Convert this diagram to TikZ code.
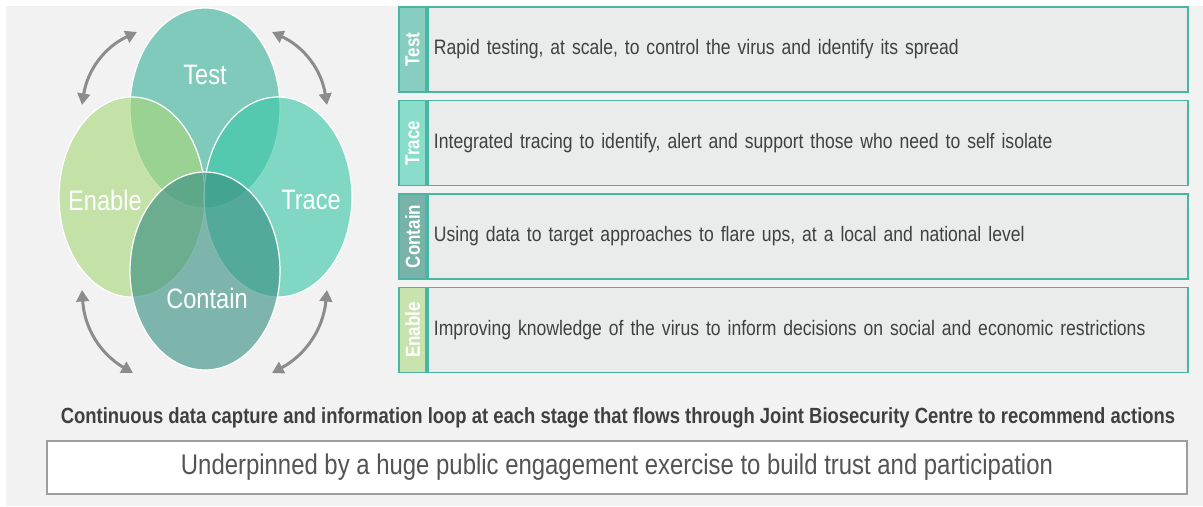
\documentclass[tikz,border=0pt]{standalone}
\usepackage{fontspec}
\setmainfont[FakeStretch=0.84]{Liberation Sans}
\usetikzlibrary{arrows.meta,positioning,shapes.geometric}
\definecolor{pagegray}{RGB}{242,242,242}
\definecolor{testteal}{RGB}{62,180,156}
\definecolor{traceteal}{RGB}{60,200,170}
\definecolor{containteal}{RGB}{58,144,130}
\definecolor{enablegreen}{RGB}{170,216,124}
\definecolor{tabtest}{RGB}{136,206,192}
\definecolor{tabtrace}{RGB}{138,220,203}
\definecolor{tabcontain}{RGB}{120,178,168}
\definecolor{tabenable}{RGB}{200,227,174}
\definecolor{rowline}{RGB}{72,182,162}
\definecolor{rowfill}{RGB}{233,236,235}
\definecolor{bodytext}{RGB}{64,64,64}
\definecolor{loopgray}{RGB}{140,140,140}
\tikzset{
  venn/.style={ellipse, draw=white, line width=0.7pt, fill opacity=0.63,
               minimum width=3.0cm, minimum height=4.0cm, inner sep=0pt},
  vennlab/.style={text=white, font=\fontsize{16}{18}\selectfont},
  loop/.style={loopgray, line width=1.7pt,
               {Triangle[length=2.3mm,width=2.5mm]}-{Triangle[length=2.3mm,width=2.5mm]}},
  rowbox/.style={draw=rowline, line width=1.1pt, fill=rowfill,
                 minimum height=1.70cm, text width=14.96cm, inner xsep=0.12cm,
                 align=left, text=bodytext, font=\fontsize{11.9}{13}\selectfont},
  tab/.style={draw=rowline, line width=1.1pt, minimum width=0.54cm,
              minimum height=1.70cm, inner sep=0pt, text=white,
              font=\fontsize{11.5}{12}\selectfont\bfseries},
  footbox/.style={draw=black!38, line width=0.6pt, fill=white,
                  minimum width=22.80cm, minimum height=1.06cm,
                  text=black!67, font=\fontsize{16.2}{18}\selectfont},
}
\begin{document}
\begin{tikzpicture}[x=1cm,y=1cm]
  \path[use as bounding box] (0,0) rectangle (24.06,10.12);
  \fill[pagegray] (0.12,0) rectangle (24.06,10.00);

  % Venn of the four stages, drawn back to front.
  \node[venn, fill=testteal] (test) at (4.10,7.96) {};
  \node[venn, fill=enablegreen, minimum width=2.92cm] (enable) at (2.64,6.18) {};
  \node[venn, fill=traceteal, minimum width=2.96cm] (trace) at (5.56,6.18) {};
  \node[venn, fill=containteal, minimum height=3.96cm] (contain) at (4.10,4.70) {};

  \node[vennlab] (testlab) at (4.10,8.62) {Test};
  \node[vennlab] (enablelab) at (2.10,6.12) {Enable};
  \node[vennlab] (tracelab) at (6.22,6.12) {Trace};
  \node[vennlab] (containlab) at (4.14,4.16) {Contain};

  % Loop arrows at the corners.
  \coordinate (tlA) at (1.64,8.02);
  \coordinate (tlB) at (2.74,9.48);
  \coordinate (trA) at (5.44,9.48);
  \coordinate (trB) at (6.54,8.02);
  \coordinate (blA) at (1.64,4.32);
  \coordinate (blB) at (2.66,2.66);
  \coordinate (brA) at (6.54,4.32);
  \coordinate (brB) at (5.44,2.66);
  \draw[loop] (tlA) to[bend left=28] (tlB);
  \draw[loop] (trA) to[bend left=28] (trB);
  \draw[loop] (blA) to[bend right=28] (blB);
  \draw[loop] (brA) to[bend left=28] (brB);

  % Stage descriptions.
  \foreach \name/\yy/\col/\desc in {
    Test/9.13/tabtest/{Rapid testing, at scale, to control the virus and identify its spread},
    Trace/7.26/tabtrace/{Integrated tracing to identify, alert and support those who need to self isolate},
    Contain/5.39/tabcontain/{Using data to target approaches to flare ups, at a local and national level},
    Enable/3.52/tabenable/{Improving knowledge of the virus to inform decisions on social and economic restrictions}
  }{
    \node[rowbox, anchor=west] (row\name) at (8.54,\yy) {\desc};
    \node[tab, fill=\col, left=0pt of row\name] (tab\name) {\rotatebox{90}{\name}};
  }

  \node[font=\fontsize{12.5}{14}\selectfont\bfseries, text=bodytext] (loopnote) at (12.36,1.76)
    {Continuous data capture and information loop at each stage that flows through Joint Biosecurity Centre to recommend actions};

  \node[footbox] (footer) at (12.34,0.77)
    {Underpinned by a huge public engagement exercise to build trust and participation};
\end{tikzpicture}
\end{document}
